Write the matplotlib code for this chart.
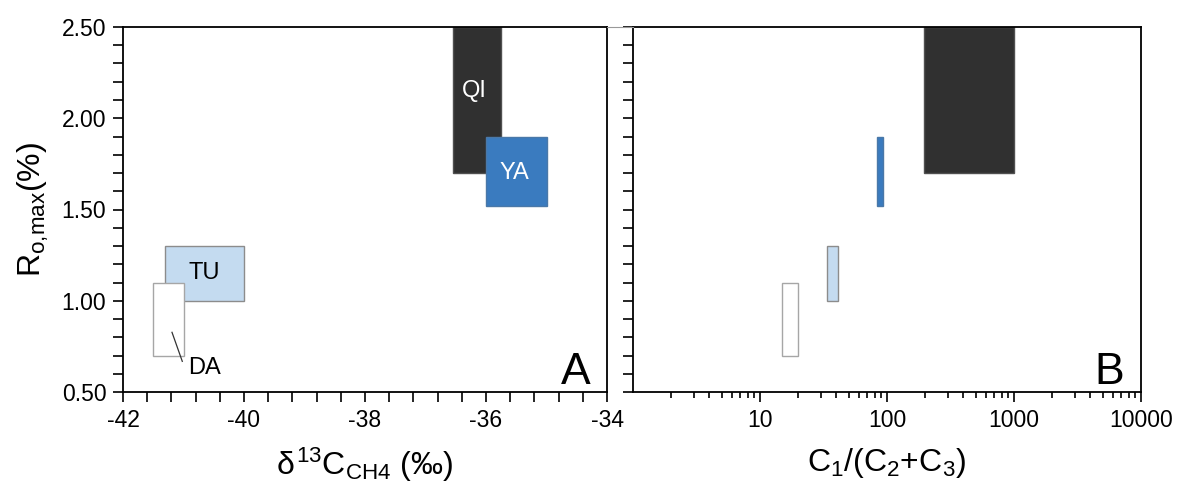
import numpy as np
import matplotlib
matplotlib.use("Agg")
import matplotlib.pyplot as plt
from matplotlib.ticker import MultipleLocator, FixedLocator, LogLocator, NullFormatter, FormatStrFormatter
from matplotlib.lines import Line2D

plt.rcParams["font.family"] = ["Liberation Sans", "DejaVu Sans"]
plt.rcParams["mathtext.fontset"] = "custom"
plt.rcParams["mathtext.rm"] = "Liberation Sans"
plt.rcParams["mathtext.it"] = "Liberation Sans"

# basin ranges (draw order: TU, DA, QI, YA)
groups = ["TU", "DA", "QI", "YA"]
d13c_lo = [-41.3, -41.5, -36.55, -36.0]
d13c_hi = [-40.0, -41.0, -35.75, -35.0]
ro_lo = [1.00, 0.70, 1.70, 1.52]
ro_hi = [1.30, 1.10, 2.50, 1.90]
ratio_lo = [34, 15, 195, 84]
ratio_hi = [41, 20, 1000, 93]

face = {"TU": "#c4dbf0", "DA": "#ffffff", "QI": "#303030", "YA": "#3a7bbf"}
edge = {"TU": "#8c8c8c", "DA": "#a6a6a6", "QI": "#505050", "YA": "#4a78a8"}
txtcol = {"TU": "black", "DA": "black", "QI": "white", "YA": "white"}
# label anchor points in panel A (x, y)
lab_x = {"TU": -40.65, "DA": -40.66, "QI": -36.19, "YA": -35.53}
lab_y = {"TU": 1.15, "DA": 0.63, "QI": 2.15, "YA": 1.70}

W, H = 1179, 493
fig = plt.figure(figsize=(W / 100, H / 100), dpi=100)
axA = fig.add_axes([123 / W, (H - 392) / H, 484 / W, 365 / H])
axB = fig.add_axes([633 / W, (H - 392) / H, 508 / W, 365 / H])

for g, x0, x1, y0, y1, r0, r1 in zip(groups, d13c_lo, d13c_hi, ro_lo, ro_hi, ratio_lo, ratio_hi):
    axA.bar(x0, y1 - y0, width=x1 - x0, bottom=y0, align="edge",
            color=face[g], edgecolor=edge[g], lw=1.0, zorder=2)
    axB.bar(r0, y1 - y0, width=r1 - r0, bottom=y0, align="edge",
            color=face[g], edgecolor=edge[g], lw=1.0, zorder=2)
    axA.text(lab_x[g], lab_y[g], g, color=txtcol[g], fontsize=17,
             ha="center", va="center", zorder=3)

# leader line to DA
axA.plot([-41.19, -41.02], [0.827, 0.668], color="#333333", lw=0.9, zorder=3)

for ax in (axA, axB):
    ax.set_ylim(0.5, 2.5)
    ax.yaxis.set_major_locator(MultipleLocator(0.5))
    ax.yaxis.set_minor_locator(MultipleLocator(0.1))
    for s in ax.spines.values():
        s.set_linewidth(1.3)
    ax.tick_params(which="both", direction="out", width=1.2, labelsize=16.5,
                   top=False, right=False, color="black")
    ax.tick_params(which="major", length=7, pad=5)
    ax.tick_params(which="minor", length=7)

axA.set_xlim(-42, -34)
axA.xaxis.set_major_locator(MultipleLocator(2))
axA.xaxis.set_minor_locator(MultipleLocator(0.4))
axA.xaxis.set_major_formatter(FormatStrFormatter("%d"))
axA.yaxis.set_major_formatter(FormatStrFormatter("%.2f"))
axA.set_xlabel(r"$\delta^{13}$C$_{\mathrm{CH4}}$ (‰)", fontsize=23, labelpad=10)
axA.set_ylabel(r"R$_{\mathrm{o{,}max}}$(%)", fontsize=23, labelpad=8)

axB.set_xscale("log")
axB.set_xlim(1, 10000)
axB.xaxis.set_major_locator(FixedLocator([10, 100, 1000, 10000]))
axB.xaxis.set_major_formatter(FormatStrFormatter("%d"))
axB.xaxis.set_minor_locator(LogLocator(base=10, subs=np.arange(2, 10)))
axB.xaxis.set_minor_formatter(NullFormatter())
axB.tick_params(axis="x", which="minor", length=4)
axB.tick_params(axis="y", which="both", labelleft=False)
axB.set_xlabel(r"C$_1$/(C$_2$+C$_3$)", fontsize=23, labelpad=10)

axA.text(0.967, 0.022, "A", transform=axA.transAxes, fontsize=32,
         ha="right", va="baseline")
axB.text(0.966, 0.022, "B", transform=axB.transAxes, fontsize=32,
         ha="right", va="baseline")

# thin rule joining the two panel tops
fig.add_artist(Line2D([607 / W, 633 / W], [(H - 27) / H] * 2,
                      transform=fig.transFigure, color="#999999", lw=0.8))

fig.savefig("out.png", dpi=100)
